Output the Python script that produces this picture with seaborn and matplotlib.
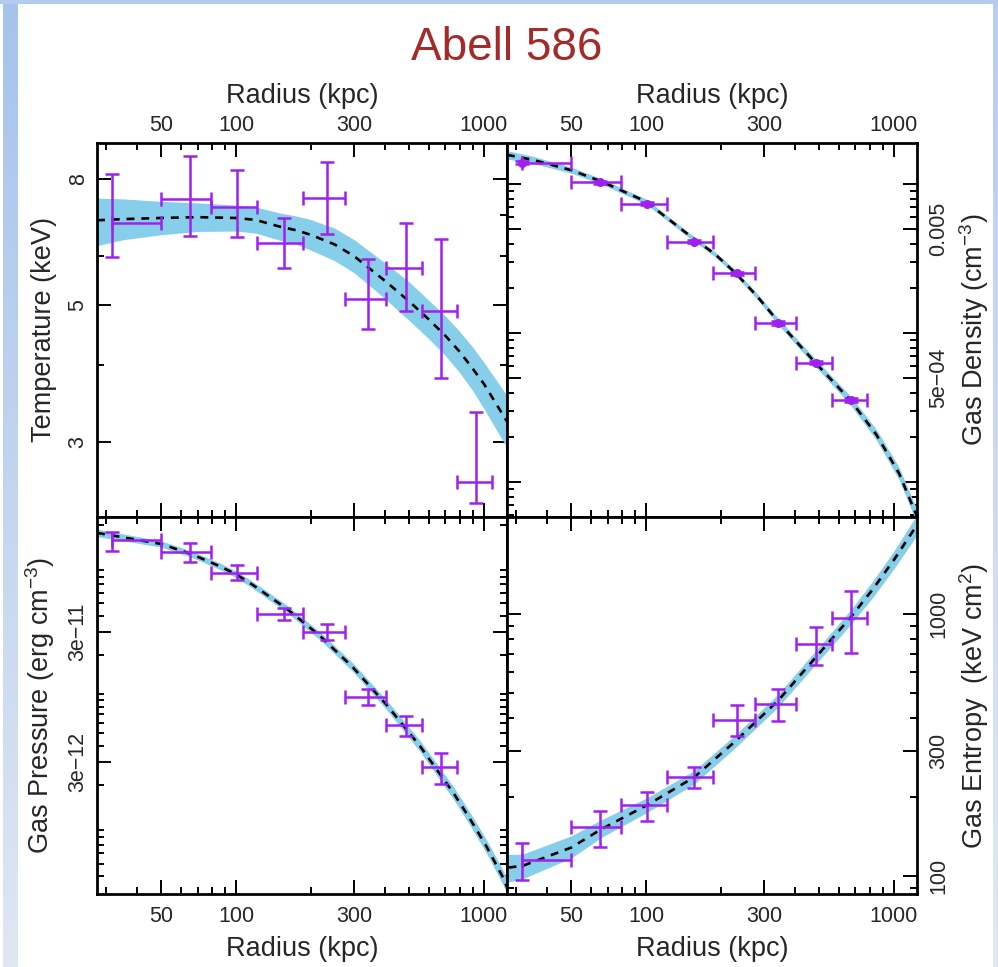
import numpy as np
import matplotlib
matplotlib.use('Agg')
import matplotlib.pyplot as plt
import seaborn as sns
from matplotlib.ticker import FixedLocator, NullFormatter
from matplotlib.patches import Rectangle
from matplotlib.colors import to_rgb

# ---- data ----
# radial bins (kpc): centre, inner and outer edge (first bin has no inner arm)
r_mid = [31.7, 65.5, 101, 156, 232, 341, 484, 670, 934]
r_lo = [31.7, 50, 79, 122, 187, 275, 404, 564, 776]
r_hi = [50, 79, 122, 187, 275, 404, 564, 776, 1080]

# temperature (keV)
T = [6.8, 7.42, 7.22, 6.31, 7.46, 5.11, 5.74, 4.89, 2.59]
T_hi = [8.14, 8.72, 8.27, 6.93, 8.52, 5.94, 6.79, 6.40, 3.36]
T_lo = [5.98, 6.47, 6.44, 5.74, 6.52, 4.57, 4.90, 3.81, 2.39]
r_T_mod = [27.5, 35, 50, 70, 100, 120, 150, 175, 200, 250, 300, 400, 500, 600, 700, 800, 900, 1000, 1240]
T_mod = [6.86, 6.89, 6.92, 6.94, 6.92, 6.87, 6.70, 6.61, 6.50, 6.27, 6.00, 5.47, 5.07, 4.74, 4.46,
         4.20, 3.95, 3.73, 3.24]
T_mod_hi = [7.45, 7.43, 7.36, 7.32, 7.26, 7.21, 7.05, 6.97, 6.88, 6.66, 6.38, 5.85, 5.45, 5.09, 4.80,
            4.53, 4.28, 4.04, 3.57]
T_mod_lo = [6.24, 6.38, 6.50, 6.58, 6.59, 6.54, 6.37, 6.27, 6.14, 5.90, 5.64, 5.12, 4.72, 4.41, 4.14,
            3.885, 3.64, 3.40, 2.94]

# gas density (cm^-3)
ne = [0.01397, 0.0103, 0.00738, 0.00412, 0.00253, 0.001167, 0.000635, 0.000356]
ne_hi = [0.0143, 0.01055, 0.00755, 0.00421, 0.00259, 0.00120, 0.00065, 0.000366]
ne_lo = [0.01365, 0.01005, 0.00721, 0.00403, 0.00247, 0.00113, 0.00062, 0.000346]
r_ne_mod = [27.5, 35, 50, 66, 100, 150, 190, 230, 280, 340, 480, 670, 850, 1050, 1240]
ne_mod = [0.01574, 0.01457, 0.01241, 0.01045, 0.00765, 0.00452, 0.00339, 0.00253, 0.00178,
          0.00121, 0.00064, 0.000353, 0.000209, 0.0001146, 5.89e-5]
ne_mod_hi = [0.0168, 0.0154, 0.0130, 0.01089, 0.00796, 0.00470, 0.00352, 0.00264, 0.00186,
             0.00127, 0.000677, 0.000378, 0.000227, 0.000126, 6.55e-5]
ne_mod_lo = [0.01475, 0.01378, 0.01185, 0.01003, 0.00735, 0.00435, 0.00326, 0.00243, 0.00170,
             0.00115, 0.000605, 0.000329, 0.000192, 0.0001041, 5.30e-5]

# gas pressure (erg cm^-3)
P = [1.52e-10, 1.225e-10, 8.53e-11, 4.15e-11, 3.0e-11, 9.6e-12, 5.85e-12, 2.78e-12]
P_hi = [1.76e-10, 1.435e-10, 9.77e-11, 4.59e-11, 3.44e-11, 1.087e-11, 6.77e-12, 3.56e-12]
P_lo = [1.26e-10, 1.04e-10, 7.5e-11, 3.73e-11, 2.59e-11, 8.33e-12, 4.81e-12, 2.05e-12]
r_P_mod = [27.5, 35, 50, 66, 86, 100, 117.5, 160, 218, 297, 405, 552, 752, 878, 1025, 1196, 1240]
P_mod = [1.73e-10, 1.60e-10, 1.42e-10, 1.19e-10, 9.6e-11, 8.33e-11, 6.85e-11, 4.54e-11,
         2.81e-11, 1.60e-11, 8.29e-12, 4.01e-12, 1.76e-12, 1.11e-12, 6.78e-13, 3.91e-13, 3.3e-13]
P_mod_hi = [1.846e-10, 1.70e-10, 1.50e-10, 1.258e-10, 1.017e-10, 8.82e-11, 7.27e-11, 4.84e-11,
            3.01e-11, 1.726e-11, 9.03e-12, 4.42e-12, 1.966e-12, 1.245e-12, 7.64e-13, 4.44e-13, 3.75e-13]
P_mod_lo = [1.62e-10, 1.507e-10, 1.343e-10, 1.126e-10, 9.07e-11, 7.87e-11, 6.45e-11, 4.25e-11,
            2.62e-11, 1.483e-11, 7.61e-12, 3.64e-12, 1.576e-12, 9.89e-13, 6.02e-13, 3.44e-13, 2.90e-13]

# gas entropy (keV cm^2)
K = [114.8, 153, 186, 239, 394, 453, 763, 962]
K_hi = [132.9, 177, 209, 261, 450, 514, 889, 1217]
K_lo = [96.3, 129, 162, 216, 341, 391, 639, 705]
r_K_mod = [27.9, 31.8, 50, 66, 101.5, 156.5, 231, 342, 485, 671, 827, 1000, 1240]
K_mod = [107.6, 109.2, 128.3, 150.6, 186.6, 237.7, 328, 466.7, 682, 970, 1246, 1600, 2175]
K_mod_hi = [120.8, 121, 142.2, 163.5, 199, 252, 347, 494, 724, 1035, 1340, 1730, 2380]
K_mod_lo = [94.8, 97.5, 117, 140, 175, 224, 310, 441, 642, 910, 1160, 1480, 1990]

x_major = [50, 100, 300, 1000]
x_labels = ["50", "100", "300", "1000"]
x_minor = [30, 40, 60, 70, 80, 90, 200, 400, 500, 600, 700, 800, 900]

PURPLE = "#A020F0"
BAND = "#87CEEB"


def draw_panel(ax, r_mod, y_mod, y_mod_lo, y_mod_hi, y, y_lo, y_hi, dots=False):
    """Shaded model band, dashed best fit and binned data with error bars"""
    n = len(y)
    x = np.array(r_mid[:n])
    xerr = [x - np.array(r_lo[:n]), np.array(r_hi[:n]) - x]
    yerr = [np.array(y) - np.array(y_lo), np.array(y_hi) - np.array(y)]
    ax.fill_between(r_mod, y_mod_lo, y_mod_hi, color=BAND, lw=0, zorder=1)
    sns.lineplot(x=r_mod, y=y_mod, ax=ax, color="black", lw=1.9,
                 linestyle=(0, (3, 2.6)), estimator=None, sort=False, zorder=3)
    ax.errorbar(x, y, xerr=xerr, yerr=yerr, fmt="o" if dots else "none",
                color=PURPLE, ecolor=PURPLE, ms=5.5, elinewidth=1.8,
                capsize=5, capthick=1.8, zorder=4)


def style_axes(ax, ylim, y_major, y_labels, y_minor, top, left, ylabel):
    ax.set_xscale("log")
    ax.set_yscale("log")
    ax.set_xlim(27.5, 1240)
    ax.set_ylim(*ylim)
    ax.set_xticks(x_major, labels=x_labels)
    ax.xaxis.set_minor_locator(FixedLocator(x_minor))
    ax.xaxis.set_minor_formatter(NullFormatter())
    ax.set_yticks(y_major, labels=y_labels)
    ax.yaxis.set_minor_locator(FixedLocator(y_minor))
    ax.yaxis.set_minor_formatter(NullFormatter())
    ax.tick_params(which="both", direction="in", top=True, bottom=True,
                   left=True, right=True, width=1.4, color="black")
    ax.tick_params(which="major", length=10, labelsize=15.5)
    ax.tick_params(which="minor", length=5)
    if top:
        ax.tick_params(axis="x", labeltop=True, labelbottom=False, pad=5)
        ax.xaxis.set_label_position("top")
        ax.set_xlabel("Radius (kpc)", fontsize=19.5, labelpad=9)
    else:
        ax.tick_params(axis="x", labeltop=False, labelbottom=True, pad=9)
        ax.set_xlabel("Radius (kpc)", fontsize=19.5, labelpad=6)
    if left:
        ax.tick_params(axis="y", labelleft=True, labelright=False, pad=6, labelrotation=90)
        ax.set_ylabel(ylabel, fontsize=19.5, labelpad=8)
    else:
        ax.tick_params(axis="y", labelleft=False, labelright=True, pad=8, labelrotation=90)
        ax.yaxis.set_label_position("right")
        ax.set_ylabel(ylabel, fontsize=19.5, labelpad=6)
    for tick in ax.yaxis.get_major_ticks():
        tick.label1.set_verticalalignment("center")
        tick.label2.set_verticalalignment("center")
    for s in ax.spines.values():
        s.set_linewidth(2)
        s.set_color("black")
    ax.set_facecolor("white")


sns.set_theme(style="ticks")
plt.rcParams['font.family'] = ['Liberation Sans', 'DejaVu Sans']
plt.rcParams['mathtext.fontset'] = 'custom'
plt.rcParams['mathtext.rm'] = 'Liberation Sans'
plt.rcParams['mathtext.it'] = 'Liberation Sans:italic'
plt.rcParams['mathtext.default'] = 'regular'

W, H = 998, 967
fig = plt.figure(figsize=(W / 100, H / 100), dpi=100, facecolor="white")

# slide frame behind the chart
bg = fig.add_axes([0, 0, 1, 1], zorder=-10)
bg.set_xlim(0, W)
bg.set_ylim(H, 0)
bg.axis("off")
frac = np.linspace(0, 1, 256)[:, None, None]
left_img = (1 - frac) * np.array(to_rgb("#a6c3ec")) + frac * np.array(to_rgb("#dfe7f2"))
right_img = (1 - frac) * np.array(to_rgb("#b6cdef")) + frac * np.array(to_rgb("#e3e9f2"))
bg.imshow(left_img, extent=(3, 18, H, 0), aspect="auto")
bg.imshow(right_img, extent=(993, W, H, 0), aspect="auto")
bg.add_patch(Rectangle((0, 0), W, 4, color="#b2cbee", lw=0))

x0, xm, x1 = 97, 507, 917
y0, ym, y1 = 143, 517, 894
ax_T = fig.add_axes([x0 / W, 1 - ym / H, (xm - x0) / W, (ym - y0) / H])
ax_n = fig.add_axes([xm / W, 1 - ym / H, (x1 - xm) / W, (ym - y0) / H])
ax_P = fig.add_axes([x0 / W, 1 - y1 / H, (xm - x0) / W, (y1 - ym) / H])
ax_K = fig.add_axes([xm / W, 1 - y1 / H, (x1 - xm) / W, (y1 - ym) / H])

draw_panel(ax_T, r_T_mod, T_mod, T_mod_lo, T_mod_hi, T, T_lo, T_hi)
style_axes(ax_T, (2.27, 9.15), [3, 5, 8], ["3", "5", "8"], [4, 6, 7],
           top=True, left=True, ylabel="Temperature (keV)")

draw_panel(ax_n, r_ne_mod, ne_mod, ne_mod_lo, ne_mod_hi, ne, ne_lo, ne_hi, dots=True)
style_axes(ax_n, (5.85e-5, 0.0189), [1e-4, 5e-4, 1e-3, 5e-3, 1e-2],
           ["", "5e\u221204", "", "0.005", ""],
           [9e-3, 8e-3, 7e-3, 6e-3, 4e-3, 3e-3, 2e-3, 9e-4, 8e-4, 7e-4, 6e-4,
            4e-4, 3e-4, 2e-4, 9e-5, 8e-5, 7e-5, 6e-5],
           top=True, left=False, ylabel="Gas Density (cm$^{-3}$)")

draw_panel(ax_P, r_P_mod, P_mod, P_mod_lo, P_mod_hi, P, P_lo, P_hi)
style_axes(ax_P, (2.93e-13, 2.29e-10), [3e-12, 3e-11], ["3e\u221212", "3e\u221211"],
           [2e-10, 9e-11, 8e-11, 7e-11, 6e-11, 5e-11, 4e-11, 2e-11, 1e-11, 9e-12, 8e-12,
            7e-12, 6e-12, 5e-12, 4e-12, 2e-12, 9e-13, 8e-13, 7e-13, 6e-13, 5e-13, 4e-13],
           top=False, left=True, ylabel="Gas Pressure (erg cm$^{-3}$)")

draw_panel(ax_K, r_K_mod, K_mod, K_mod_lo, K_mod_hi, K, K_lo, K_hi)
style_axes(ax_K, (85.3, 2333), [100, 300, 1000], ["100", "300", "1000"],
           [90, 200, 400, 500, 600, 700, 800, 900],
           top=False, left=False, ylabel="Gas Entropy  (keV cm$^{2}$)")

fig.text(xm / W, 1 - 60 / H, "Abell 586", ha="center", va="baseline",
         fontsize=33, color="#a52a2a")

fig.savefig("out.png", dpi=100, facecolor="white")
